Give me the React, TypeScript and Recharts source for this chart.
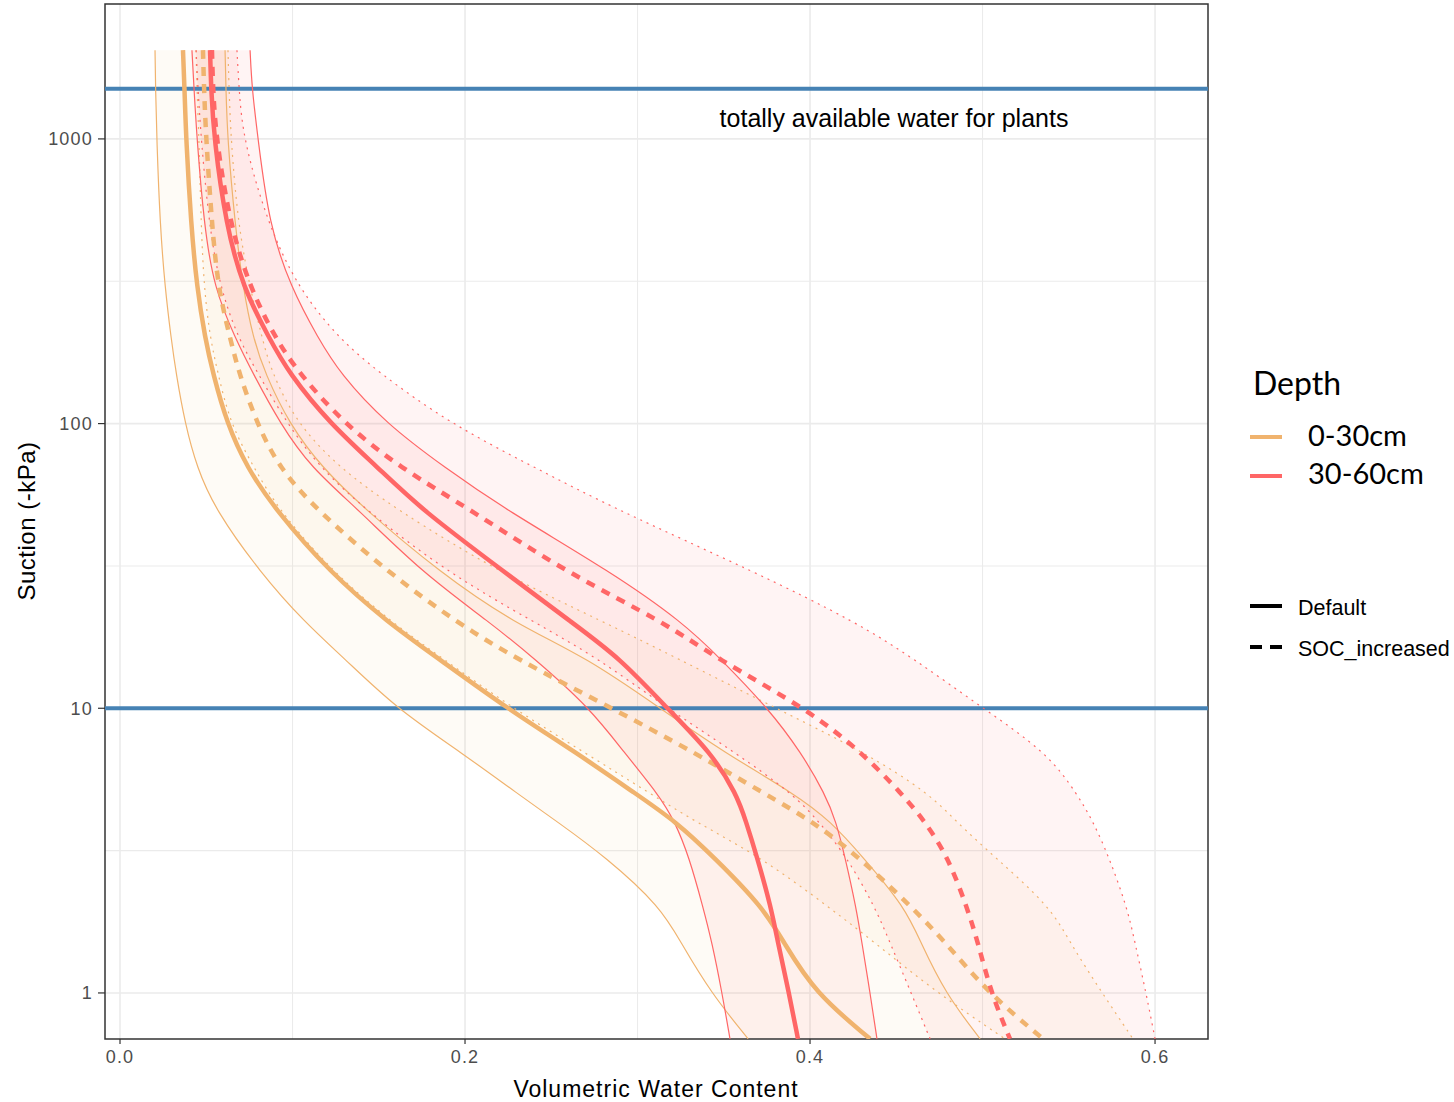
import React from 'react';
import { ComposedChart, Line, Area, XAxis, YAxis, CartesianGrid, ReferenceArea } from 'recharts';

// Suction levels (-kPa) at which the curves were read
const suctionKPa = [2050, 1500, 1000, 500, 300, 200, 150, 100, 70, 50, 30, 20, 15, 10, 7, 5, 4, 3, 2, 1.5, 1, 0.69];

// 0-30cm, Default (lower band, mean, upper band)
const top_def_lower = [0.0203, 0.0206, 0.0213, 0.0232, 0.0261, 0.0296, 0.0325, 0.0377, 0.0446, 0.0551, 0.0812, 0.1072, 0.1299, 0.1600, 0.1977, 0.2307, 0.2533, 0.2817, 0.3136, 0.3252, 0.3426, 0.3641];
const top_def_mean = [0.0365, 0.0374, 0.0383, 0.0412, 0.0446, 0.0493, 0.0539, 0.0620, 0.0736, 0.0899, 0.1217, 0.1554, 0.1843, 0.2243, 0.2643, 0.2991, 0.3223, 0.3443, 0.3728, 0.3849, 0.4029, 0.4348];
const top_def_upper = [0.0609, 0.0614, 0.0623, 0.0667, 0.0713, 0.0771, 0.0841, 0.0980, 0.1171, 0.1420, 0.1855, 0.2278, 0.2713, 0.3130, 0.3501, 0.3913, 0.4122, 0.4307, 0.4551, 0.4643, 0.4783, 0.4986];

// 0-30cm, SOC_increased
const top_soc_lower = [0.0441, 0.0446, 0.0458, 0.0470, 0.0487, 0.0522, 0.0568, 0.0638, 0.0777, 0.0916, 0.1235, 0.1577, 0.1867, 0.2278, 0.2690, 0.3078, 0.3333, 0.3716, 0.4110, 0.4377, 0.4736, 0.5130];
const top_soc_mean = [0.0481, 0.0487, 0.0499, 0.0533, 0.0568, 0.0638, 0.0690, 0.0794, 0.0922, 0.1136, 0.1554, 0.1954, 0.2290, 0.2852, 0.3328, 0.3739, 0.4017, 0.4284, 0.4591, 0.4788, 0.5032, 0.5351];
const top_soc_upper = [0.0626, 0.0632, 0.0643, 0.0684, 0.0754, 0.0823, 0.0881, 0.1026, 0.1270, 0.1600, 0.2197, 0.2812, 0.3229, 0.3803, 0.4319, 0.4696, 0.4846, 0.5072, 0.5397, 0.5507, 0.5693, 0.5872];

// 30-60cm, Default
const sub_def_lower = [0.0417, 0.0429, 0.0446, 0.0487, 0.0545, 0.0667, 0.0771, 0.0928, 0.1107, 0.1380, 0.1751, 0.2145, 0.2400, 0.2725, 0.2922, 0.3119, 0.3217, 0.3299, 0.3380, 0.3432, 0.3490, 0.3536];
const sub_def_mean = [0.0522, 0.0528, 0.0545, 0.0614, 0.0713, 0.0864, 0.0980, 0.1217, 0.1496, 0.1745, 0.2232, 0.2620, 0.2899, 0.3171, 0.3426, 0.3574, 0.3629, 0.3693, 0.3774, 0.3814, 0.3878, 0.3930];
const sub_def_upper = [0.0754, 0.0765, 0.0800, 0.0864, 0.0991, 0.1148, 0.1275, 0.1542, 0.1884, 0.2232, 0.2852, 0.3264, 0.3478, 0.3757, 0.3948, 0.4087, 0.4151, 0.4203, 0.4267, 0.4301, 0.4348, 0.4388];

// 30-60cm, SOC_increased
const sub_soc_lower = [0.0441, 0.0452, 0.0470, 0.0516, 0.0580, 0.0684, 0.0800, 0.0968, 0.1159, 0.1420, 0.1896, 0.2406, 0.2771, 0.3171, 0.3565, 0.3901, 0.4052, 0.4214, 0.4377, 0.4464, 0.4586, 0.4696];
const sub_soc_mean = [0.0533, 0.0539, 0.0557, 0.0638, 0.0754, 0.0899, 0.1038, 0.1299, 0.1623, 0.2029, 0.2586, 0.3159, 0.3455, 0.3977, 0.4301, 0.4533, 0.4667, 0.4800, 0.4910, 0.4974, 0.5049, 0.5159];
const sub_soc_upper = [0.0678, 0.0690, 0.0713, 0.0858, 0.1032, 0.1264, 0.1507, 0.1913, 0.2406, 0.2875, 0.3687, 0.4272, 0.4597, 0.5003, 0.5374, 0.5548, 0.5641, 0.5733, 0.5838, 0.5884, 0.5948, 0.6000];

// Axis ticks and reference suctions
const xTicks = [0, 0.2, 0.4, 0.6];
const xMinor = [0.1, 0.3, 0.5];
const yTicks = [1, 10, 100, 1000];
const yMinor = [3.1623, 31.623, 316.23];
const thresholdSuctions = [1500, 10];
const X_DOMAIN: [number, number] = [-0.0087, 0.6307];
const Y_DOMAIN: [number, number] = [0.689, 2978];

const depthLabels = ['0-30cm', '30-60cm'];
const scenarioLabels = ['Default', 'SOC_increased'];
const annotation = 'totally available water for plants';

const ORANGE = '#F0B36E';
const RED = '#FF6666';
const BLUE = '#4682B4';

const rows = suctionKPa.map((s, i) => ({
  s,
  tdLo: top_def_lower[i], tdMid: top_def_mean[i], tdHi: top_def_upper[i],
  tsLo: top_soc_lower[i], tsMid: top_soc_mean[i], tsHi: top_soc_upper[i],
  sdLo: sub_def_lower[i], sdMid: sub_def_mean[i], sdHi: sub_def_upper[i],
  ssLo: sub_soc_lower[i], ssMid: sub_soc_mean[i], ssHi: sub_soc_upper[i],
}));

const thinW = 1.2;
const thickW = 4.5;
const DOTTED = '2 5';
const DASHED = '9 8';
const CURVE = 'basis';

const tickStyle = { fill: '#4D4D4D', fontSize: 18, fontFamily: '"Liberation Sans", Arial, sans-serif', letterSpacing: 1.2 };

export default function App() {
  const ribbon = (key: string, lo: string, hi: string, color: string, op: number) => (
    <Area
      key={key}
      type={CURVE}
      dataKey={(d: any) => [d[lo], d[hi]]}
      fill={color}
      fillOpacity={op}
      stroke="none"
      dot={false}
      activeDot={false}
      isAnimationActive={false}
    />
  );
  const curve = (key: string, color: string, width: number, dash?: string) => (
    <Line
      key={key}
      type={CURVE}
      dataKey={key}
      stroke={color}
      strokeWidth={width}
      strokeDasharray={dash}
      dot={false}
      activeDot={false}
      isAnimationActive={false}
    />
  );

  return (
    <div style={{ position: 'absolute', left: 0, top: 0, width: 1454, height: 1102, background: '#ffffff' }}>
      <ComposedChart
        width={1454}
        height={1102}
        layout="vertical"
        data={rows}
        margin={{ top: 4, right: 246, bottom: 23, left: 5 }}
      >
        <CartesianGrid horizontalValues={yMinor} verticalValues={xMinor} stroke="#EBEBEB" strokeWidth={1.1} />
        <CartesianGrid horizontalValues={yTicks} verticalValues={xTicks} stroke="#EBEBEB" strokeWidth={1.6} />
        <XAxis
          type="number"
          domain={X_DOMAIN}
          allowDataOverflow
          ticks={xTicks}
          tickFormatter={(v: number) => v.toFixed(1)}
          axisLine={false}
          tickLine={{ stroke: '#333333', strokeWidth: 1.2 }}
          tickSize={5}
          tickMargin={6}
          tick={tickStyle}
          height={40}
        />
        <YAxis
          type="number"
          dataKey="s"
          scale="log"
          domain={Y_DOMAIN}
          allowDataOverflow
          reversed
          ticks={yTicks}
          tickFormatter={(v: number) => String(v)}
          axisLine={false}
          tickLine={{ stroke: '#333333', strokeWidth: 1.2 }}
          tickSize={7}
          tickMargin={5}
          tick={tickStyle}
          width={100}
        />
        {thresholdSuctions.map((t) => (
          <Line
            key={'thr' + t}
            data={[{ s: t, v: X_DOMAIN[0] }, { s: t, v: X_DOMAIN[1] }]}
            dataKey="v"
            type="linear"
            stroke={BLUE}
            strokeWidth={4}
            dot={false}
            activeDot={false}
            isAnimationActive={false}
          />
        ))}
        {ribbon('rTD', 'tdLo', 'tdHi', ORANGE, 0.06)}
        {ribbon('rTS', 'tsLo', 'tsHi', ORANGE, 0.06)}
        {ribbon('rSD', 'sdLo', 'sdHi', RED, 0.07)}
        {ribbon('rSS', 'ssLo', 'ssHi', RED, 0.07)}
        {curve('tdLo', ORANGE, thinW)}
        {curve('tdHi', ORANGE, thinW)}
        {curve('tsLo', ORANGE, thinW, DOTTED)}
        {curve('tsHi', ORANGE, thinW, DOTTED)}
        {curve('sdLo', RED, thinW)}
        {curve('sdHi', RED, thinW)}
        {curve('ssLo', RED, thinW, DOTTED)}
        {curve('ssHi', RED, thinW, DOTTED)}
        {curve('tdMid', ORANGE, thickW)}
        {curve('tsMid', ORANGE, thickW, DASHED)}
        {curve('sdMid', RED, thickW)}
        {curve('ssMid', RED, thickW, DASHED)}
        <ReferenceArea
          x1={X_DOMAIN[0]}
          x2={X_DOMAIN[1]}
          y1={Y_DOMAIN[0]}
          y2={Y_DOMAIN[1]}
          fill="none"
          stroke="#333333"
          strokeWidth={1.5}
          ifOverflow="visible"
        />
      </ComposedChart>
      <svg
        width={1454}
        height={1102}
        style={{ position: 'absolute', left: 0, top: 0, pointerEvents: 'none' }}
      >
        <g fontFamily='"Liberation Sans", Arial, sans-serif' fill="#000">
          <text x={894} y={127} fontSize={25} textAnchor="middle">{annotation}</text>
          <text x={656} y={1097} fontSize={23} letterSpacing={1} textAnchor="middle">Volumetric Water Content</text>
          <text x={35} y={521} fontSize={24} letterSpacing={0.5} textAnchor="middle" transform="rotate(-90 35 521)">Suction (-kPa)</text>
        </g>
        <g fontFamily='Lato, "Open Sans", sans-serif' fill="#000">
          <text x={1253} y={395} fontSize={32}>Depth</text>
          <line x1={1250} x2={1282} y1={437} y2={437} stroke={ORANGE} strokeWidth={4} />
          <text x={1308} y={446} fontSize={29}>{depthLabels[0]}</text>
          <line x1={1250} x2={1282} y1={476} y2={476} stroke={RED} strokeWidth={4} />
          <text x={1308} y={484} fontSize={29}>{depthLabels[1]}</text>
        </g>
        <g fontFamily='"Liberation Sans", Arial, sans-serif' fill="#000">
          <line x1={1250} x2={1282} y1={606} y2={606} stroke="#000" strokeWidth={4} />
          <text x={1298} y={615} fontSize={21.5}>{scenarioLabels[0]}</text>
          <line x1={1250} x2={1282} y1={647} y2={647} stroke="#000" strokeWidth={4} strokeDasharray="12 8" />
          <text x={1298} y={656} fontSize={21.5}>{scenarioLabels[1]}</text>
        </g>
      </svg>
    </div>
  );
}
